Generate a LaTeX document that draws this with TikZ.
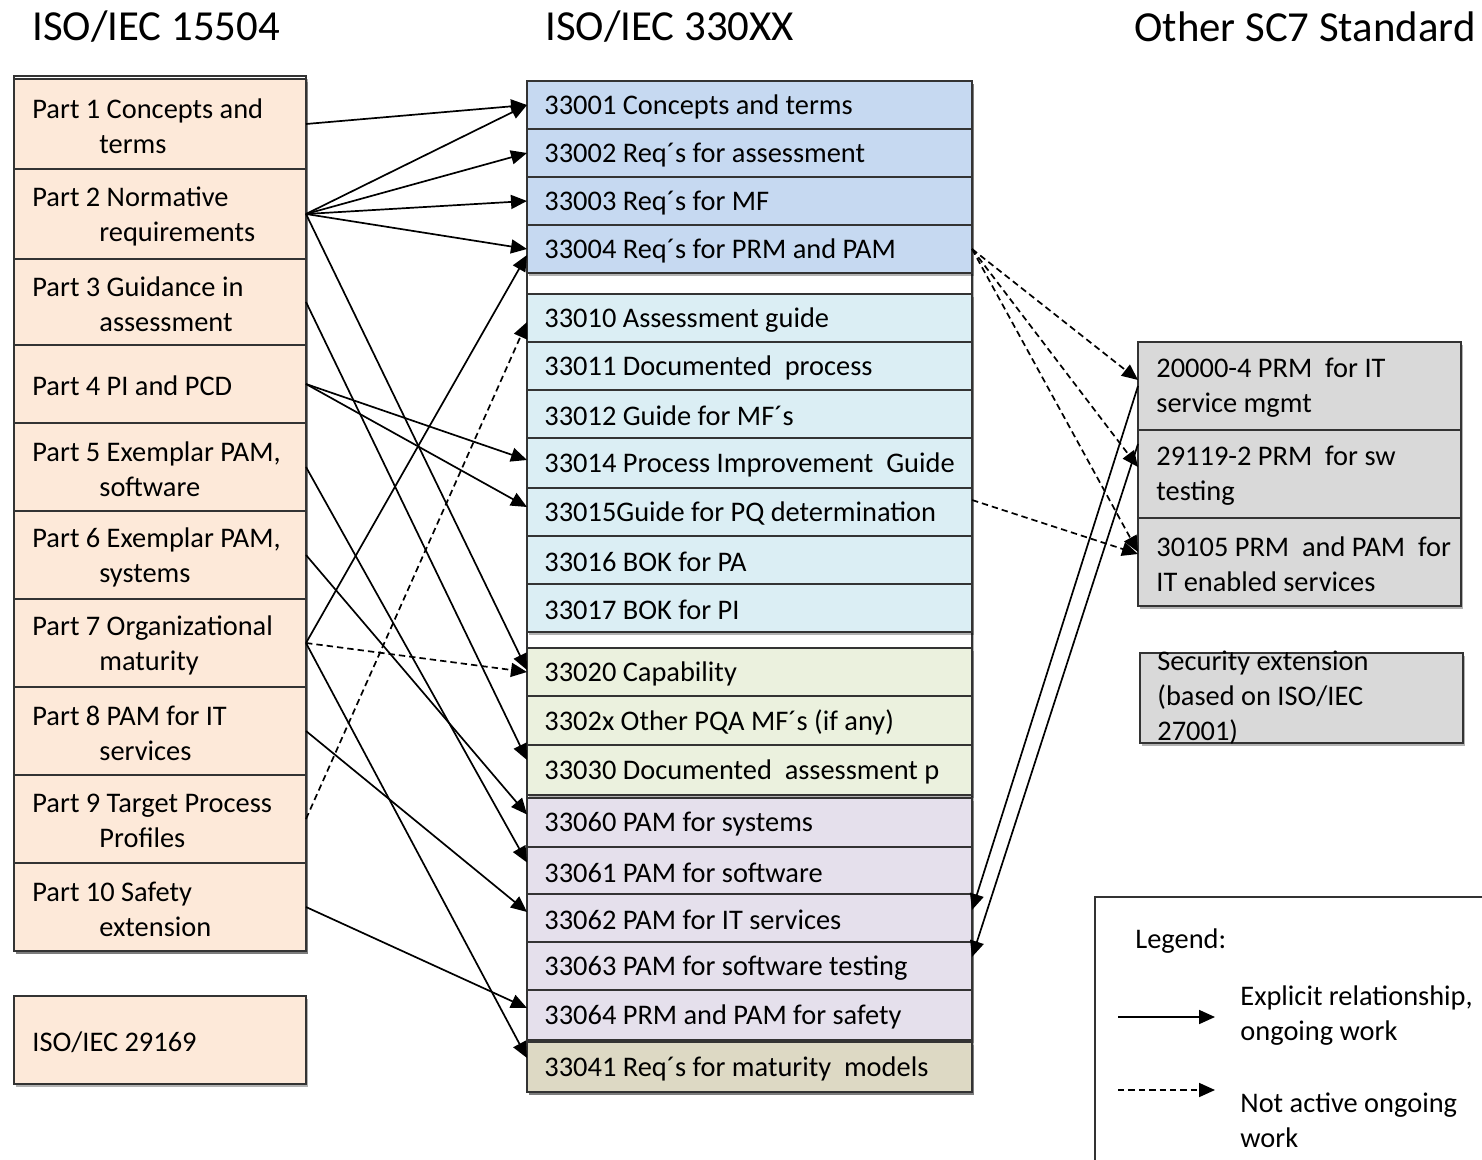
\documentclass[tikz,border=0pt]{standalone}
\usepackage{fontspec}
\setmainfont{Carlito}
\usetikzlibrary{arrows.meta,shadows,calc}
\definecolor{peach}{HTML}{FDE9D9}
\definecolor{lblue}{HTML}{C6D9F1}
\definecolor{lcyan}{HTML}{DBEEF4}
\definecolor{lgreen}{HTML}{EBF1DE}
\definecolor{lviolet}{HTML}{E5E0EC}
\definecolor{ltan}{HTML}{DDD9C4}
\definecolor{sgray}{HTML}{D9D9D9}
\tikzset{
  shd/.style={drop shadow={shadow xshift=0.8pt,shadow yshift=-1.3pt,opacity=0.3,fill=black}},
  bx/.style={draw=black!80, line width=0.8pt, rectangle, anchor=north west, inner sep=0pt, outer sep=0pt, shd},
  lbox/.style={bx, fill=peach, minimum width=146pt},
  mbox/.style={bx, minimum width=222.5pt},
  rbox/.style={bx, fill=sgray, minimum width=161.5pt},
  txt/.style={anchor=west, align=left, inner sep=0pt, font=\fontsize{14.2}{17.5}\selectfont, text=black},
  hdr/.style={anchor=west, inner sep=0pt, font=\fontsize{21.4}{25}\selectfont, text=black},
  arr/.style={line width=0.85pt, draw=black, -{Triangle[length=8pt,width=7pt]}},
  darr/.style={arr, dash pattern=on 3.2pt off 2pt},
}
\begin{document}
\begin{tikzpicture}[x=0.5pt,y=-0.5pt]
\useasboundingbox (0,0) rectangle (1482,1160);

% headers
\node[hdr] (h1) at (32,27) {ISO/IEC 15504};
\node[hdr] (h2) at (545,27) {ISO/IEC 330XX};
\node[hdr] (h3) at (1134,27) {Other SC7 Standard};

% left column
\node[bx, fill=white, minimum width=146pt, minimum height=437.5pt] (Lframe) at (14,76) {};
\node[lbox, minimum height=45pt] (L1) at (14,79) {};
\node[lbox, minimum height=45pt] (L2) at (14,169) {};
\node[lbox, minimum height=43pt] (L3) at (14,259) {};
\node[lbox, minimum height=39pt] (L4) at (14,345) {};
\node[lbox, minimum height=44pt] (L5) at (14,423) {};
\node[lbox, minimum height=44pt] (L6) at (14,511) {};
\node[lbox, minimum height=44pt] (L7) at (14,599) {};
\node[lbox, minimum height=44pt] (L8) at (14,687) {};
\node[lbox, minimum height=44pt] (L9) at (14,775) {};
\node[lbox, minimum height=44pt] (L10) at (14,863) {};
\node[lbox, minimum height=44pt] (L11) at (14,996) {};

\node[txt] (tL1) at ([xshift=9pt,yshift=-1pt]L1.west) {Part 1 Concepts and\\\hspace*{33.5pt}terms};
\node[txt] (tL2) at ([xshift=9pt,yshift=-1pt]L2.west) {Part 2 Normative\\\hspace*{33.5pt}requirements};
\node[txt] (tL3) at ([xshift=9pt,yshift=-1pt]L3.west) {Part 3 Guidance in\\\hspace*{33.5pt}assessment};
\node[txt] (tL4) at ([xshift=9pt,yshift=-1pt]L4.west) {Part 4 PI and PCD};
\node[txt] (tL5) at ([xshift=9pt,yshift=-1pt]L5.west) {Part 5 Exemplar PAM,\\\hspace*{33.5pt}software};
\node[txt] (tL6) at ([xshift=9pt,yshift=-1pt]L6.west) {Part 6 Exemplar PAM,\\\hspace*{33.5pt}systems};
\node[txt] (tL7) at ([xshift=9pt,yshift=-1pt]L7.west) {Part 7 Organizational\\\hspace*{33.5pt}maturity};
\node[txt] (tL8) at ([xshift=9pt,yshift=-1pt]L8.west) {Part 8 PAM for IT\\\hspace*{33.5pt}services};
\node[txt] (tL9) at ([xshift=9pt,yshift=-1pt]L9.west) {Part 9 Target Process\\\hspace*{33.5pt}Profiles};
\node[txt] (tL10) at ([xshift=9pt,yshift=-1pt]L10.west) {Part 10 Safety\\\hspace*{33.5pt}extension};
\node[txt] (tL11) at ([xshift=9pt,yshift=-1pt]L11.west) {ISO/IEC 29169};

% middle column
\node[bx, fill=white, minimum width=222.5pt, minimum height=505.5pt] (Mframe) at (527,81) {};
\node[mbox, fill=lblue, minimum height=24pt] (c1) at (527,81) {};
\node[mbox, fill=lblue, minimum height=24pt] (c2) at (527,129) {};
\node[mbox, fill=lblue, minimum height=24pt] (c3) at (527,177) {};
\node[mbox, fill=lblue, minimum height=24pt] (c4) at (527,225) {};
\node[mbox, fill=lcyan, minimum height=24pt] (c10) at (527,294) {};
\node[mbox, fill=lcyan, minimum height=24pt] (c11) at (527,342) {};
\node[mbox, fill=lcyan, minimum height=24pt] (c12) at (527,390) {};
\node[mbox, fill=lcyan, minimum height=25pt] (c14) at (527,438) {};
\node[mbox, fill=lcyan, minimum height=24pt] (c15) at (527,488) {};
\node[mbox, fill=lcyan, minimum height=24pt] (c16) at (527,536) {};
\node[mbox, fill=lcyan, minimum height=24pt] (c17) at (527,584) {};
\node[mbox, fill=lgreen, minimum height=24pt] (c20) at (527,648) {};
\node[mbox, fill=lgreen, minimum height=24.5pt] (c2x) at (527,696) {};
\node[mbox, fill=lgreen, minimum height=25pt] (c30) at (527,745) {};
\node[mbox, fill=lviolet, minimum height=24.5pt] (c60) at (527,798) {};
\node[mbox, fill=lviolet, minimum height=23.5pt] (c61) at (527,847) {};
\node[mbox, fill=lviolet, minimum height=24pt] (c62) at (527,894) {};
\node[mbox, fill=lviolet, minimum height=24pt] (c63) at (527,942) {};
\node[mbox, fill=lviolet, minimum height=25pt] (c64) at (527,990) {};
\node[mbox, fill=ltan, minimum height=25pt] (c41) at (527,1042) {};

\node[txt] (tc1) at ([xshift=8.5pt,yshift=-1pt]c1.west) {33001 Concepts and terms};
\node[txt] (tc2) at ([xshift=8.5pt,yshift=-1pt]c2.west) {33002 Req´s for assessment};
\node[txt] (tc3) at ([xshift=8.5pt,yshift=-1pt]c3.west) {33003 Req´s for MF};
\node[txt] (tc4) at ([xshift=8.5pt,yshift=-1pt]c4.west) {33004 Req´s for PRM and PAM};
\node[txt] (tc10) at ([xshift=8.5pt,yshift=-1pt]c10.west) {33010 Assessment guide};
\node[txt] (tc11) at ([xshift=8.5pt,yshift=-1pt]c11.west) {33011 Documented\ \ process};
\node[txt] (tc12) at ([xshift=8.5pt,yshift=-1pt]c12.west) {33012 Guide for MF´s};
\node[txt] (tc14) at ([xshift=8.5pt,yshift=-1pt]c14.west) {33014 Process Improvement\ \ Guide};
\node[txt] (tc15) at ([xshift=8.5pt,yshift=-1pt]c15.west) {33015Guide for PQ determination};
\node[txt] (tc16) at ([xshift=8.5pt,yshift=-1pt]c16.west) {33016 BOK for PA};
\node[txt] (tc17) at ([xshift=8.5pt,yshift=-1pt]c17.west) {33017 BOK for PI};
\node[txt] (tc20) at ([xshift=8.5pt,yshift=-1pt]c20.west) {33020 Capability};
\node[txt] (tc2x) at ([xshift=8.5pt,yshift=-1pt]c2x.west) {3302x Other PQA MF´s (if any)};
\node[txt] (tc30) at ([xshift=8.5pt,yshift=-1pt]c30.west) {33030 Documented\ \ assessment p};
\node[txt] (tc60) at ([xshift=8.5pt,yshift=-1pt]c60.west) {33060 PAM for systems};
\node[txt] (tc61) at ([xshift=8.5pt,yshift=-1pt]c61.west) {33061 PAM for software};
\node[txt] (tc62) at ([xshift=8.5pt,yshift=-1pt]c62.west) {33062 PAM for IT services};
\node[txt] (tc63) at ([xshift=8.5pt,yshift=-1pt]c63.west) {33063 PAM for software testing};
\node[txt] (tc64) at ([xshift=8.5pt,yshift=-1pt]c64.west) {33064 PRM and PAM for safety};
\node[txt] (tc41) at ([xshift=8.5pt,yshift=-1pt]c41.west) {33041 Req´s for maturity\ \ models};

% right column
\node[rbox, minimum height=44pt] (r1) at (1138,342) {};
\node[rbox, minimum height=44pt] (r2) at (1138,430) {};
\node[rbox, minimum height=44pt] (r3) at (1138,518) {};
\node[rbox, minimum height=45pt] (sec) at (1140,653) {};
\node[txt] (tr1) at ([xshift=9pt,yshift=-1pt]r1.west) {20000-4 PRM\ \ for IT\\service mgmt};
\node[txt] (tr2) at ([xshift=9pt,yshift=-1pt]r2.west) {29119-2 PRM\ \ for sw\\testing};
\node[txt] (tr3) at ([xshift=9pt,yshift=-1pt]r3.west) {30105 PRM\ \ and PAM\ \ for\\IT enabled services};
\node[txt] (tsec) at ([xshift=8.5pt]sec.west) {Security extension\\(based on ISO/IEC\\27001)};

% legend
\node[bx, fill=white, minimum width=200pt, minimum height=140pt] (leg) at (1095,897) {};
\node[txt] (legt) at (1135,941) {Legend:};
\coordinate (la1) at (1118,1017);
\coordinate (lb1) at (1215,1017);
\coordinate (la2) at (1118,1090);
\coordinate (lb2) at (1215,1090);
\draw[arr] (la1) -- (lb1);
\draw[darr] (la2) -- (lb2);
\node[txt] (leg1) at (1240,1016) {Explicit relationship,\\ongoing work};
\node[txt] (leg2) at (1240,1120) {Not active ongoing\\work};

% connectors left -> middle
\draw[arr] (L1.east) -- (c1.west);
\draw[arr] (L2.east) -- (c1.west);
\draw[arr] (L2.east) -- (c2.west);
\draw[arr] (L2.east) -- (c3.west);
\draw[arr] (L2.east) -- (c4.west);
\draw[arr] (L2.east) -- ([yshift=1pt]c20.west);
\draw[arr] (L3.east) -- ([yshift=5pt]c30.west);
\draw[arr] (L4.east) -- ([yshift=1.5pt]c14.west);
\draw[arr] (L4.east) -- ([yshift=2.5pt]c15.west);
\draw[arr] (L5.east) -- ([yshift=4pt]c61.west);
\draw[arr] (L6.east) -- ([yshift=4pt]c60.west);
\draw[arr] (L7.east) -- ([yshift=-3pt]c4.west);
\draw[darr] (L7.east) -- (c20.west);
\draw[arr] (L7.east) -- ([yshift=4.5pt]c41.west);
\draw[arr] (L8.east) -- ([yshift=3pt]c62.west);
\draw[darr] (L9.east) -- ([yshift=-2pt]c10.west);
\draw[arr] (L10.east) -- ([yshift=3.5pt]c64.west);

% connectors middle <-> right
\draw[darr] (c4.east) -- ([yshift=3pt]r1.west);
\draw[darr] (c4.east) -- ([yshift=3.5pt]r2.west);
\draw[darr] (c4.east) -- ([yshift=5pt]r3.west);
\draw[darr] ([yshift=6pt]c15.east) -- ([yshift=4pt]r3.west);
\draw[arr] (r1.west) -- ([yshift=4pt]c62.east);
\draw[arr] ([yshift=15pt]r2.west) -- ([yshift=4.5pt]c63.east);
\end{tikzpicture}
\end{document}
